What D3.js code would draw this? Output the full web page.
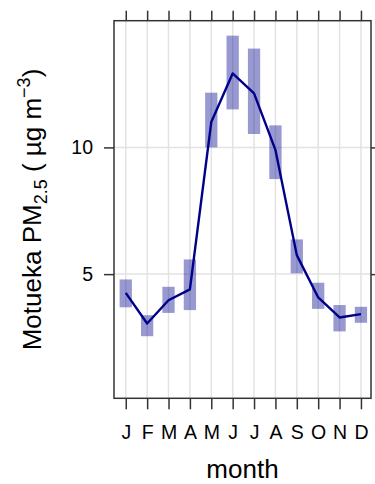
<!DOCTYPE html>
<html>
<head>
<meta charset="utf-8">
<script src="https://cdn.jsdelivr.net/npm/d3@7"></script>
<style>
  html, body { margin: 0; padding: 0; background: #fff; }
  svg { display: block; }
  text { font-family: "Liberation Sans", Arial, sans-serif; fill: #000; }
</style>
</head>
<body>
<div id="chart"></div>
<script>
// Monthly PM2.5 at Motueka: range band (lower/upper) and monthly mean line
const months = ["J", "F", "M", "A", "M", "J", "J", "A", "S", "O", "N", "D"];
const monthIndex = [1, 2, 3, 4, 5, 6, 7, 8, 9, 10, 11, 12];
const lower = [3.69, 2.55, 3.47, 3.58, 10.0, 11.5, 10.53, 8.75, 5.03, 3.63, 2.74, 3.08];
const upper = [4.79, 3.38, 4.50, 5.58, 12.16, 14.41, 13.90, 10.87, 6.37, 4.66, 3.78, 3.71];
const mean  = [4.26, 3.05, 3.97, 4.40, 11.0, 12.92, 12.13, 9.90, 5.75, 4.08, 3.29, 3.42];
const yTicks = [5, 10];

(function () {
  const W = 375, H = 484;
  const margin = { top: 20.7, right: 4, bottom: 85.7, left: 114 };
  const iw = W - margin.left - margin.right;
  const ih = H - margin.top - margin.bottom;

  const svg = d3.select("#chart").append("svg")
    .attr("width", W).attr("height", H);

  const g = svg.append("g").attr("transform", `translate(${margin.left},${margin.top})`);

  const x = d3.scaleLinear().domain([0.45, 12.47]).range([0, iw]);
  const y = d3.scaleLinear().domain([0.1, 15.0]).range([ih, 0]);

  const gridColor = "#e3e3e3";

  // grid lines
  g.append("g").selectAll("line").data(monthIndex).join("line")
    .attr("x1", d => x(d)).attr("x2", d => x(d))
    .attr("y1", 0).attr("y2", ih)
    .attr("stroke", gridColor).attr("stroke-width", 1.5);
  g.append("g").selectAll("line").data(yTicks).join("line")
    .attr("x1", 0).attr("x2", iw)
    .attr("y1", d => y(d)).attr("y2", d => y(d))
    .attr("stroke", gridColor).attr("stroke-width", 1.5);

  // range bars
  const barW = x(1.575) - x(1);
  g.append("g").selectAll("rect").data(monthIndex).join("rect")
    .attr("x", d => x(d) - barW / 2)
    .attr("width", barW)
    .attr("y", (d, i) => y(upper[i]))
    .attr("height", (d, i) => y(lower[i]) - y(upper[i]))
    .attr("fill", "#00008B")
    .attr("fill-opacity", 0.4);

  // mean line
  const line = d3.line()
    .x((d, i) => x(monthIndex[i]))
    .y(d => y(d));
  g.append("path")
    .datum(mean)
    .attr("d", line)
    .attr("fill", "none")
    .attr("stroke", "#00008B")
    .attr("stroke-width", 2.4)
    .attr("stroke-linejoin", "round");

  // axes on all four sides
  const axisColor = "#333";
  const axB = g.append("g").attr("transform", `translate(0,${ih})`)
    .call(d3.axisBottom(x).tickValues(monthIndex).tickFormat(d => months[d - 1])
      .tickSize(11).tickPadding(16));
  const axT = g.append("g")
    .call(d3.axisTop(x).tickValues(monthIndex).tickFormat("").tickSize(10));
  const axL = g.append("g")
    .call(d3.axisLeft(y).tickValues(yTicks).tickSize(10).tickPadding(11));
  const axR = g.append("g").attr("transform", `translate(${iw},0)`)
    .call(d3.axisRight(y).tickValues(yTicks).tickFormat("").tickSize(10));

  [axB, axT, axL, axR].forEach(a => {
    a.select(".domain").remove();
    a.selectAll(".tick line").attr("stroke", axisColor).attr("stroke-width", 1.5);
    a.selectAll(".tick text").attr("font-size", 19.5).attr("fill", "#000")
      .style("font-family", "'Liberation Sans', Arial, sans-serif");
  });

  // frame
  g.append("rect")
    .attr("x", 0).attr("y", 0).attr("width", iw).attr("height", ih)
    .attr("fill", "none").attr("stroke", axisColor).attr("stroke-width", 1.5);

  // axis titles
  svg.append("text")
    .attr("x", margin.left + iw / 2).attr("y", 478)
    .attr("text-anchor", "middle")
    .attr("font-size", 26)
    .text("month");

  const yt = svg.append("text")
    .attr("transform", `translate(40.5,${margin.top + ih / 2}) rotate(-90)`)
    .attr("text-anchor", "middle")
    .attr("font-size", 26);
  yt.append("tspan").text("Motueka PM");
  yt.append("tspan").attr("font-size", 18).attr("dy", 6).text("2.5");
  yt.append("tspan").attr("dy", -6).text(" ( \u00b5g m");
  yt.append("tspan").attr("font-size", 18).attr("dy", -11).text("\u22123");
  yt.append("tspan").attr("dy", 11).text(")");
})();
</script>
</body>
</html>
